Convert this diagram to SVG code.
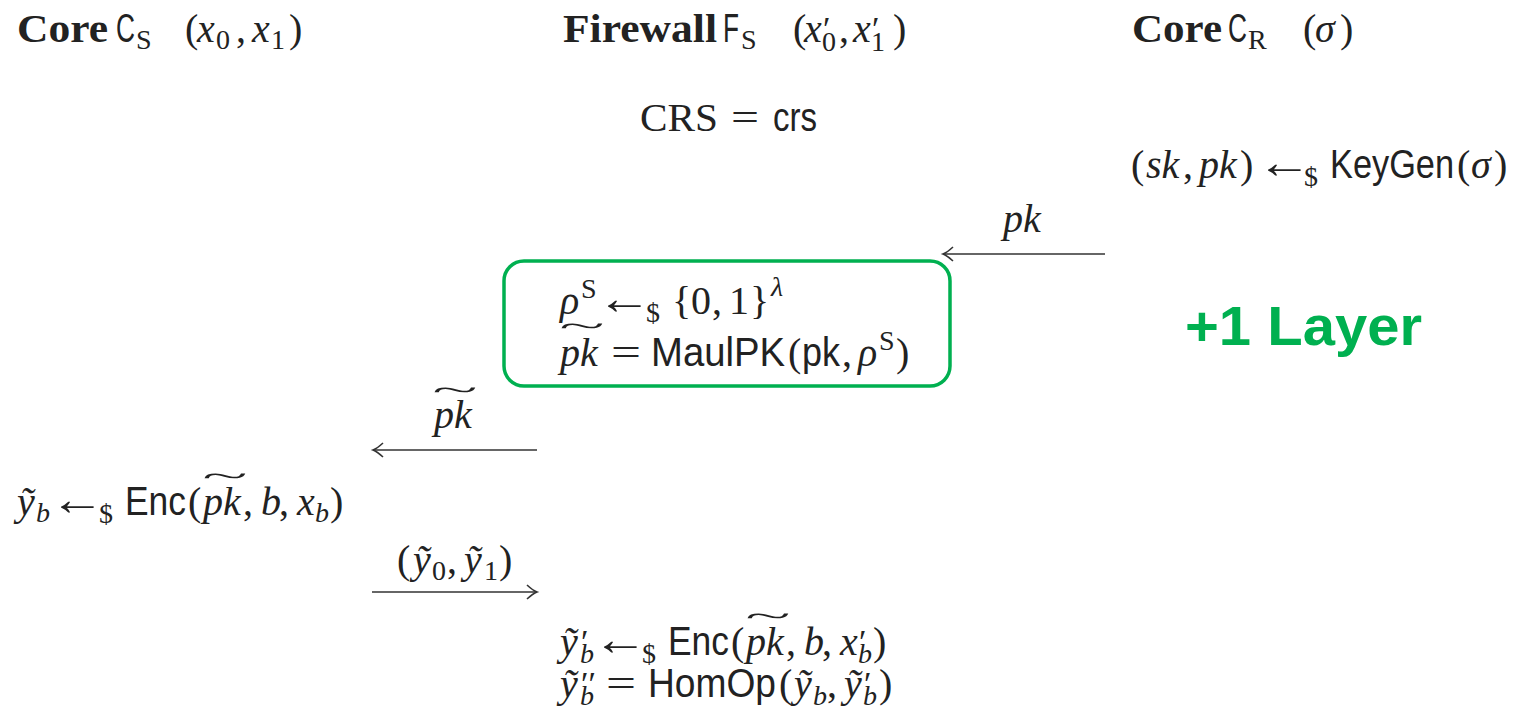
<svg xmlns="http://www.w3.org/2000/svg" width="1516" height="714" viewBox="0 0 1516 714">
<style>
.t{font-family:"Liberation Serif",serif;font-size:40px;fill:#222}
.it{font-style:italic}
.sf{font-family:"Liberation Sans",sans-serif}
.bf{font-weight:bold}
.sc{font-size:28px}
.ar{font-family:"Liberation Serif","DejaVu Serif",serif;font-size:40px;fill:#222}
.tl{font-family:"Liberation Serif",serif;font-size:40px;fill:#222}
.conn{stroke:#333;stroke-width:1.6;fill:none}
.layer{font-family:"Liberation Sans",sans-serif;font-weight:bold;font-size:56px;fill:#00B050}
</style>
<defs>
<marker id="ah" markerUnits="userSpaceOnUse" markerWidth="20" markerHeight="20" refX="0" refY="0" viewBox="-12 -10 14 20" orient="auto" overflow="visible">
<path d="M-10,-7 Q-4,-1.5 0,0 Q-4,1.5 -10,7" fill="none" stroke="#333" stroke-width="1.6"/>
</marker>
</defs>
<rect width="1516" height="714" fill="#fff"/>

<g id="core-s">
<text class="t bf" x="17" y="42" textLength="91" lengthAdjust="spacingAndGlyphs">Core</text>
<text class="t sf" x="116" y="42" textLength="19" lengthAdjust="spacingAndGlyphs">C</text>
<text class="t"><tspan class="sc" x="136" y="49">S</tspan><tspan x="185" y="42">(</tspan><tspan class="it" x="197" y="42">x</tspan><tspan class="sc" x="216" y="49">0</tspan><tspan x="236" y="42">,</tspan><tspan class="it" x="252" y="42">x</tspan><tspan class="sc" x="271" y="49">1</tspan><tspan x="289" y="42">)</tspan></text>
</g>

<g id="firewall-s">
<text class="t bf" x="563" y="42" textLength="154" lengthAdjust="spacingAndGlyphs">Firewall</text>
<text class="t sf" x="723" y="42" textLength="16" lengthAdjust="spacingAndGlyphs">F</text>
<text class="t"><tspan class="sc" x="741" y="49">S</tspan><tspan x="793" y="42">(</tspan><tspan class="it" x="804" y="42">x</tspan><tspan x="823" y="40" style="font-size:34px">′</tspan><tspan class="sc" x="822" y="51">0</tspan><tspan x="839" y="42">,</tspan><tspan class="it" x="853" y="42">x</tspan><tspan x="872" y="40" style="font-size:34px">′</tspan><tspan class="sc" x="871" y="51">1</tspan><tspan x="893" y="42">)</tspan></text>
</g>

<g id="core-r">
<text class="t bf" x="1132" y="42" textLength="90" lengthAdjust="spacingAndGlyphs">Core</text>
<text class="t sf" x="1228" y="42" textLength="19" lengthAdjust="spacingAndGlyphs">C</text>
<text class="t"><tspan class="sc" x="1248" y="49">R</tspan><tspan x="1303" y="42">(</tspan><tspan class="it" x="1315" y="42">σ</tspan><tspan x="1340" y="42">)</tspan></text>
</g>

<g id="crs">
<text class="t" x="640" y="131" textLength="78" lengthAdjust="spacingAndGlyphs">CRS</text>
<text class="t" x="731" y="131" textLength="28" lengthAdjust="spacingAndGlyphs">=</text>
<text class="t sf" x="773" y="131" textLength="44" lengthAdjust="spacingAndGlyphs">crs</text>
</g>

<g id="keygen">
<text class="t"><tspan x="1131" y="178">(</tspan><tspan class="it" x="1146" y="178">sk</tspan><tspan x="1183" y="178">,</tspan><tspan class="it" x="1199" y="178">pk</tspan><tspan x="1240" y="178">)</tspan><tspan class="sc" x="1304" y="186">$</tspan><tspan x="1457" y="178">(</tspan><tspan class="it" x="1471" y="178">σ</tspan><tspan x="1494" y="178">)</tspan></text>
<text class="ar" transform="translate(1257,178) scale(1.45,1.15)" x="0" y="0" textLength="38" lengthAdjust="spacingAndGlyphs">←</text>
<text class="t sf" x="1330" y="178" textLength="124" lengthAdjust="spacingAndGlyphs">KeyGen</text>
</g>

<g id="maul-box">
<rect x="504" y="261" width="446" height="125" rx="20" ry="20" fill="none" stroke="#00B050" stroke-width="3.5"/>
<text class="t"><tspan class="it" x="560" y="314">ρ</tspan><tspan class="sc" x="581" y="298">S</tspan><tspan class="sc" x="646" y="322">$</tspan><tspan x="672" y="314">{</tspan><tspan x="691" y="314">0</tspan><tspan x="712" y="314">,</tspan><tspan x="729" y="314">1</tspan><tspan x="750" y="314">}</tspan><tspan class="sc it" x="771" y="296">λ</tspan></text>
<text class="ar" transform="translate(597,314) scale(1.45,1.15)" x="0" y="0" textLength="38" lengthAdjust="spacingAndGlyphs">←</text>
<text class="t"><tspan class="it" x="560" y="366">pk</tspan><tspan x="788" y="366">(</tspan><tspan x="842" y="366">,</tspan><tspan class="it" x="858" y="366">ρ</tspan><tspan class="sc" x="879" y="350">S</tspan><tspan x="896" y="366">)</tspan></text>
<text class="tl" transform="translate(582,336) scale(2.1,0.75)" text-anchor="middle">~</text>
<text class="t" x="611" y="366" textLength="30" lengthAdjust="spacingAndGlyphs">=</text>
<text class="t sf" x="651" y="366" textLength="134" lengthAdjust="spacingAndGlyphs">MaulPK</text>
<text class="t sf" x="802" y="366" textLength="38" lengthAdjust="spacingAndGlyphs">pk</text>
</g>

<g id="layer-label">
<text class="layer" x="1185" y="345" textLength="237" lengthAdjust="spacingAndGlyphs">+1 Layer</text>
</g>

<g id="enc-s">
<text class="t"><tspan class="it" x="17" y="515">ỹ</tspan><tspan class="sc it" x="36" y="522">b</tspan><tspan class="sc" x="99" y="523">$</tspan><tspan x="188" y="515">(</tspan><tspan class="it" x="203" y="515">pk</tspan><tspan x="243" y="515">,</tspan><tspan class="it" x="261" y="515">b</tspan><tspan x="279" y="515">,</tspan><tspan class="it" x="297" y="515">x</tspan><tspan class="sc it" x="315" y="522">b</tspan><tspan x="330" y="515">)</tspan></text>
<text class="ar" transform="translate(50,515) scale(1.45,1.15)" x="0" y="0" textLength="38" lengthAdjust="spacingAndGlyphs">←</text>
<text class="t sf" x="125" y="515" textLength="61" lengthAdjust="spacingAndGlyphs">Enc</text>
<text class="tl" transform="translate(225,486) scale(2.1,0.75)" text-anchor="middle">~</text>
</g>

<g id="enc-fw">
<text class="t"><tspan class="it" x="560" y="655">ỹ</tspan><tspan x="581" y="653" style="font-size:34px">′</tspan><tspan class="sc it" x="580" y="663">b</tspan><tspan class="sc" x="642" y="663">$</tspan><tspan x="731" y="655">(</tspan><tspan class="it" x="746" y="655">pk</tspan><tspan x="786" y="655">,</tspan><tspan class="it" x="804" y="655">b</tspan><tspan x="822" y="655">,</tspan><tspan class="it" x="840" y="655">x</tspan><tspan x="859" y="653" style="font-size:34px">′</tspan><tspan class="sc it" x="858" y="663">b</tspan><tspan x="873" y="655">)</tspan></text>
<text class="ar" transform="translate(593,655) scale(1.45,1.15)" x="0" y="0" textLength="38" lengthAdjust="spacingAndGlyphs">←</text>
<text class="t sf" x="668" y="655" textLength="61" lengthAdjust="spacingAndGlyphs">Enc</text>
<text class="tl" transform="translate(768,626) scale(2.1,0.75)" text-anchor="middle">~</text>
</g>

<g id="homop">
<text class="t"><tspan class="it" x="560" y="697">ỹ</tspan><tspan x="581" y="695" style="font-size:34px">′′</tspan><tspan class="sc it" x="580" y="705">b</tspan><tspan x="779" y="697">(</tspan><tspan class="it" x="794" y="697">ỹ</tspan><tspan class="sc it" x="813" y="705">b</tspan><tspan x="827" y="697">,</tspan><tspan class="it" x="844" y="697">ỹ</tspan><tspan x="864" y="695" style="font-size:34px">′</tspan><tspan class="sc it" x="863" y="705">b</tspan><tspan x="879" y="697">)</tspan></text>
<text class="t" x="606" y="697" textLength="30" lengthAdjust="spacingAndGlyphs">=</text>
<text class="t sf" x="648" y="697" textLength="128" lengthAdjust="spacingAndGlyphs">HomOp</text>
</g>

<g id="connectors">
<line class="conn" x1="1105" y1="254" x2="943" y2="254" marker-end="url(#ah)"/>
<text class="t it" x="1003" y="232">pk</text>
<line class="conn" x1="537" y1="450" x2="373" y2="450" marker-end="url(#ah)"/>
<text class="t it" x="434" y="428">pk</text>
<text class="tl" transform="translate(455,400) scale(2.1,0.75)" text-anchor="middle">~</text>
<line class="conn" x1="372" y1="592" x2="537" y2="592" marker-end="url(#ah)"/>
<text class="t"><tspan x="397" y="573">(</tspan><tspan class="it" x="413" y="573">ỹ</tspan><tspan class="sc" x="432" y="580">0</tspan><tspan x="447" y="573">,</tspan><tspan class="it" x="464" y="573">ỹ</tspan><tspan class="sc" x="484" y="580">1</tspan><tspan x="499" y="573">)</tspan></text>
</g>
</svg>
